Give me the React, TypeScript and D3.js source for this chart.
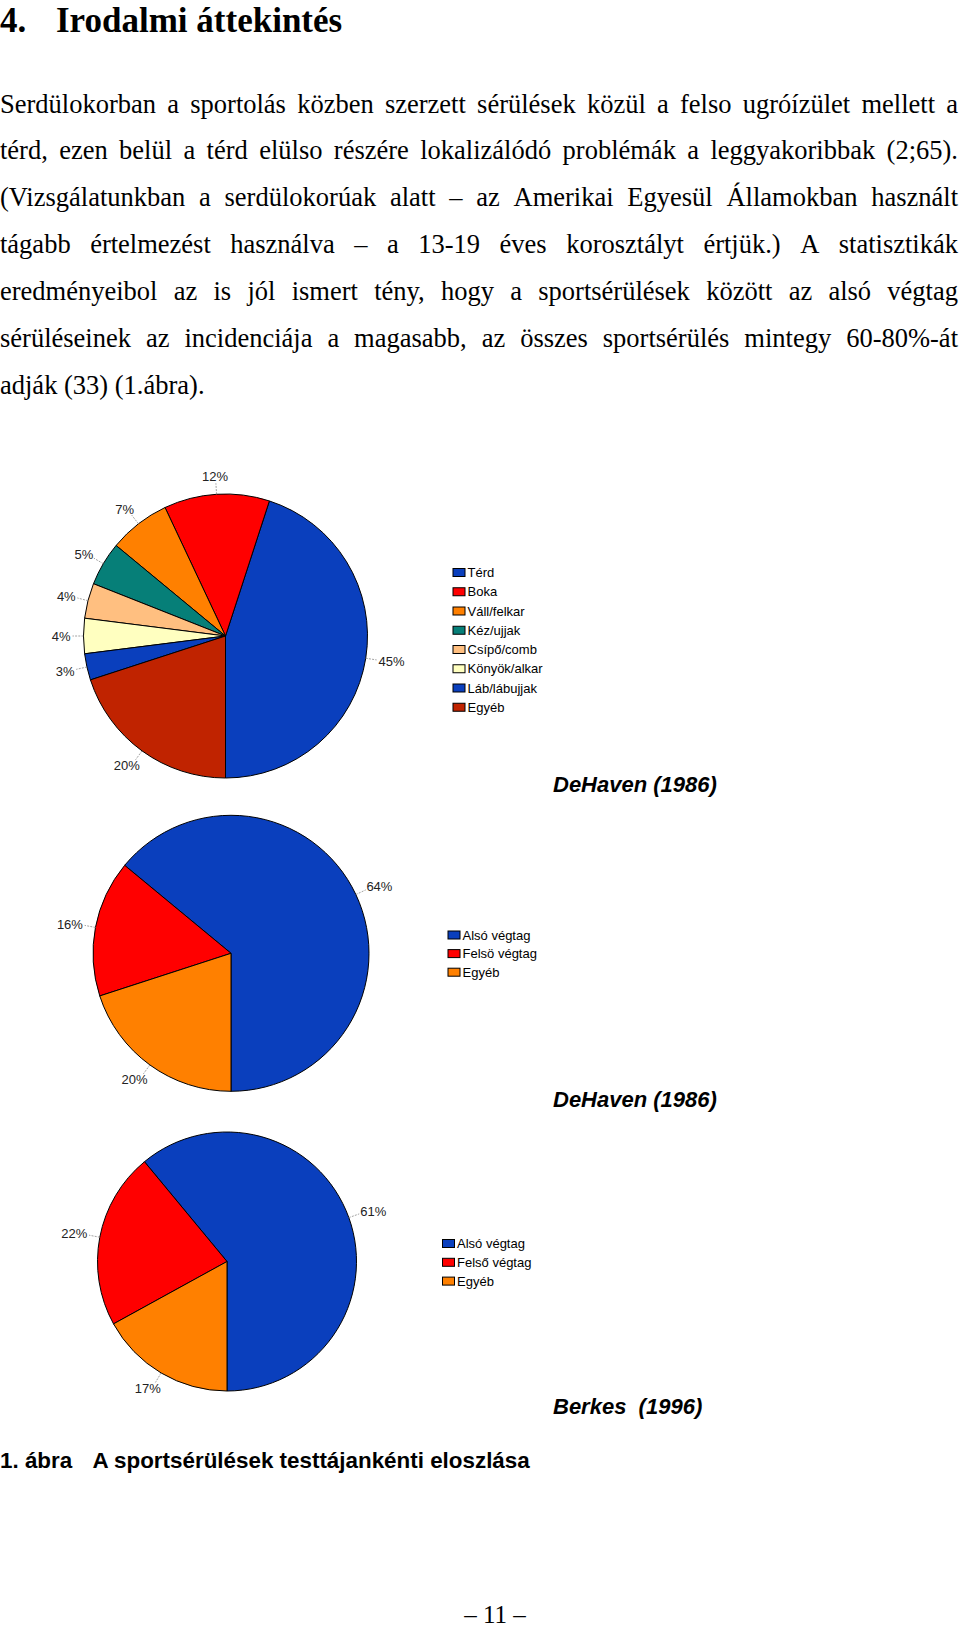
import React from "react";
import * as d3 from "d3";

// page text
const headingNumber = "4.";
const headingTitle = "Irodalmi áttekintés";
const bodyLines = [
  "Serdülokorban a sportolás közben szerzett sérülések közül a felso ugróízület mellett a",
  "térd, ezen belül a térd elülso részére lokalizálódó problémák a leggyakoribbak (2;65).",
  "(Vizsgálatunkban a serdülokorúak alatt – az Amerikai Egyesül Államokban használt",
  "tágabb értelmezést használva – a 13-19 éves korosztályt értjük.) A statisztikák",
  "eredményeibol az is jól ismert tény, hogy a sportsérülések között az alsó végtag",
  "sérüléseinek az incidenciája a magasabb, az összes sportsérülés mintegy 60-80%-át",
  "adják (33) (1.ábra).",
];
const captionNumber = "1. ábra";
const captionText = "A sportsérülések testtájankénti eloszlása";
const pageNumber = "– 11 –";

// chart 1: body regions
const regionCategories = [
  "Térd",
  "Boka",
  "Váll/felkar",
  "Kéz/ujjak",
  "Csípő/comb",
  "Könyök/alkar",
  "Láb/lábujjak",
  "Egyéb",
];
const regionValues = [45, 12, 7, 5, 4, 4, 3, 20];
const regionColors = [
  "#0a3fbd",
  "#ff0000",
  "#ff8000",
  "#067f78",
  "#ffbf80",
  "#ffffc0",
  "#0a3fbd",
  "#c02300",
];
const regionSource = "DeHaven (1986)";

// chart 2: limbs, DeHaven
const dehavenCategories = ["Alsó végtag", "Felsö végtag", "Egyéb"];
const dehavenValues = [64, 16, 20];
const dehavenSource = "DeHaven (1986)";

// chart 3: limbs, Berkes
const berkesCategories = ["Alsó végtag", "Felső végtag", "Egyéb"];
const berkesValues = [61, 22, 17];
const berkesSource = "Berkes  (1996)";

const limbColors = ["#0a3fbd", "#ff0000", "#ff8000"];

const SERIF = "'Liberation Serif', 'Times New Roman', serif";
const SANS = "'Liberation Sans', Arial, sans-serif";
const LABEL_SIZE = 13;

let ctx: CanvasRenderingContext2D | null = null;
const measure = (text: string, font: string) => {
  if (!ctx) ctx = document.createElement("canvas").getContext("2d");
  if (!ctx) return text.length * 10;
  ctx.font = font;
  return ctx.measureText(text).width;
};

// justified paragraph line
const JustifiedLine = ({ text, y, width, size, justify }) => {
  const words = text.split(" ");
  const font = `${size}px ${SERIF}`;
  const widths = words.map((w) => measure(w, font));
  const total = d3.sum(widths);
  const space = measure(" ", font);
  const gap = justify ? (width - total) / (words.length - 1) : space;
  let x = 0;
  const xs = widths.map((w) => {
    const cur = x;
    x += w + gap;
    return cur;
  });
  return (
    <text y={y} fontFamily={SERIF} fontSize={size} fill="#000">
      {words.map((w, i) => (
        <tspan key={i} x={xs[i]}>
          {w}
        </tspan>
      ))}
    </text>
  );
};

const Pie = ({ cx, cy, r, values, colors }) => {
  const pie = d3
    .pie<number>()
    .sort(null)
    .value((d) => d)
    .startAngle(Math.PI)
    .endAngle(-Math.PI);
  const arcs = pie(values);
  const arc = d3.arc<d3.PieArcDatum<number>>().innerRadius(0).outerRadius(r);
  const labelFont = `${LABEL_SIZE}px ${SANS}`;
  return (
    <g transform={`translate(${cx},${cy})`}>
      {arcs.map((a, i) => (
        <path
          key={i}
          d={arc(a) || ""}
          fill={colors[i]}
          stroke="#000"
          strokeWidth={1}
        />
      ))}
      {arcs.map((a, i) => {
        const t = (a.startAngle + a.endAngle) / 2;
        const sx = Math.sin(t);
        const sy = -Math.cos(t);
        const label = `${values[i]}%`;
        const hw = measure(label, labelFont) / 2;
        const hh = 5;
        const R = r + 13;
        const lx = R * sx + hw * sx;
        const ly = R * sy + hh * sy;
        return (
          <g key={i}>
            <line
              x1={r * sx}
              y1={r * sy}
              x2={(r + 11) * sx}
              y2={(r + 11) * sy}
              stroke="#8a8a8a"
              strokeWidth={0.8}
              strokeDasharray="2 1.2"
            />
            <text
              x={lx}
              y={ly + 4.6}
              textAnchor="middle"
              fontFamily={SANS}
              fontSize={LABEL_SIZE}
              fill="#222"
            >
              {label}
            </text>
          </g>
        );
      })}
    </g>
  );
};

const Legend = ({ x, y, step, items, colors }) => (
  <g transform={`translate(${x},${y})`}>
    {items.map((name, i) => (
      <g key={name} transform={`translate(0,${i * step})`}>
        <rect x={0} y={-4} width={12} height={8} fill={colors[i]} stroke="#000" strokeWidth={1} />
        <text x={14.5} y={4.6} fontFamily={SANS} fontSize={13} fill="#000">
          {name}
        </text>
      </g>
    ))}
  </g>
);

const Source = ({ x, y, text }) => (
  <text
    x={x}
    y={y}
    fontFamily={SANS}
    fontSize={22}
    fontWeight="bold"
    fontStyle="italic"
    fill="#000"
    style={{ whiteSpace: "pre" }}
  >
    {text}
  </text>
);

export default function App() {
  const bodySize = 26.5;
  const lineStep = 46.9;
  return (
    <div style={{ position: "absolute", left: 0, top: 0 }}>
      <svg width={960} height={1630} style={{ display: "block", background: "#fff" }}>
        {/* heading */}
        <text x={0} y={32} fontFamily={SERIF} fontWeight="bold" fontSize={35}>
          {headingNumber}
        </text>
        <text x={56} y={32} fontFamily={SERIF} fontWeight="bold" fontSize={35}>
          {headingTitle}
        </text>

        {/* paragraph */}
        {bodyLines.map((line, i) => (
          <JustifiedLine
            key={i}
            text={line}
            y={112.5 + i * lineStep}
            width={958}
            size={bodySize}
            justify={i < bodyLines.length - 1}
          />
        ))}

        {/* chart 1 */}
        <Pie cx={225.5} cy={636} r={142} values={regionValues} colors={regionColors} />
        <Legend x={453} y={572.5} step={19.25} items={regionCategories} colors={regionColors} />
        <Source x={553} y={792} text={regionSource} />

        {/* chart 2 */}
        <Pie cx={231} cy={953.3} r={138} values={dehavenValues} colors={limbColors} />
        <Legend x={448} y={935} step={18.6} items={dehavenCategories} colors={limbColors} />
        <Source x={553} y={1106.5} text={dehavenSource} />

        {/* chart 3 */}
        <Pie cx={227} cy={1261.5} r={129.5} values={berkesValues} colors={limbColors} />
        <Legend x={442.5} y={1243.5} step={18.8} items={berkesCategories} colors={limbColors} />
        <Source x={553} y={1414} text={berkesSource} />

        {/* caption */}
        <text x={0} y={1468} fontFamily={SANS} fontWeight="bold" fontSize={22.4}>
          {captionNumber}
        </text>
        <text x={92.5} y={1468} fontFamily={SANS} fontWeight="bold" fontSize={22.4}>
          {captionText}
        </text>

        {/* page number */}
        <text x={495} y={1623} textAnchor="middle" fontFamily={SERIF} fontSize={25} style={{ whiteSpace: "pre" }}>
          {pageNumber}
        </text>
      </svg>
    </div>
  );
}
